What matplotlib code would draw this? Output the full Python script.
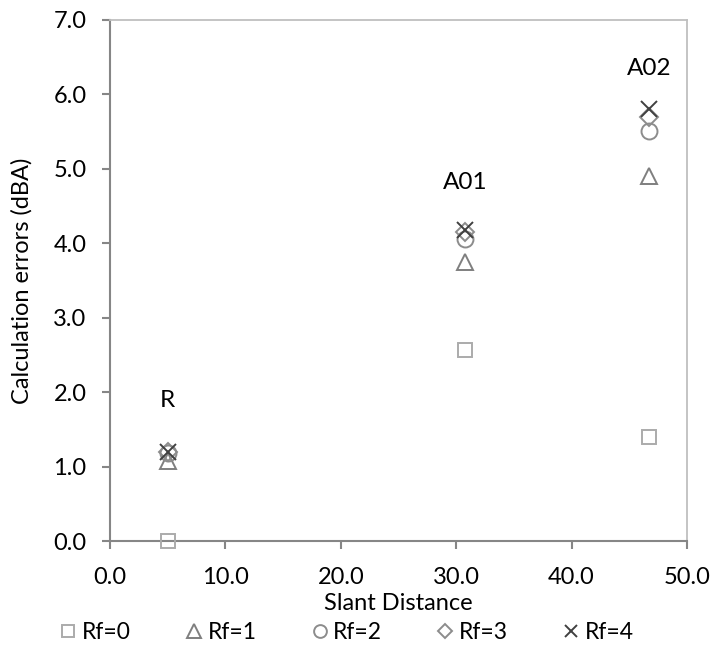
import matplotlib
matplotlib.use("Agg")
import matplotlib.pyplot as plt

plt.rcParams['font.family'] = ['Lato', 'DejaVu Sans']

slant_distance = [5.0, 30.8, 46.7]
site_labels = ["R", "A01", "A02"]
label_y = [1.89, 4.82, 6.35]

series_names = ["Rf=0", "Rf=1", "Rf=2", "Rf=3", "Rf=4"]
errors_rf0 = [0.0, 2.57, 1.40]
errors_rf1 = [1.08, 3.75, 4.90]
errors_rf2 = [1.18, 4.06, 5.51]
errors_rf3 = [1.20, 4.15, 5.70]
errors_rf4 = [1.20, 4.18, 5.80]

x_ticks = [0, 10, 20, 30, 40, 50]
y_ticks = [0, 1, 2, 3, 4, 5, 6, 7]

series = [errors_rf0, errors_rf1, errors_rf2, errors_rf3, errors_rf4]
markers = ["s", "^", "o", "D", "x"]
colors = ["#ABABAB", "#7F7F7F", "#8C8C8C", "#8C8C8C", "#404040"]
sizes = [10.5, 12, 11.5, 9, 11]

FS = 17

fig = plt.figure(figsize=(7.13, 6.55), dpi=100)
ax = fig.add_axes([0.1543, 0.174, 0.8092, 0.7955])

for name, vals, m, c, s in zip(series_names, series, markers, colors, sizes):
    ax.plot(slant_distance, vals, linestyle="none", marker=m, markersize=s,
            markerfacecolor="none", markeredgecolor=c, markeredgewidth=1.4,
            label=name, clip_on=False, zorder=3)

for x, y, t in zip(slant_distance, label_y, site_labels):
    ax.text(x, y, t, ha="center", va="center", fontsize=FS + 0.5, color="black")

ax.set_xlim(0, 50)
ax.set_ylim(0, 7)
ax.set_xticks(x_ticks)
ax.set_yticks(y_ticks)
ax.set_xticklabels([f"{v:.1f}" for v in x_ticks])
ax.set_yticklabels([f"{v:.1f}" for v in y_ticks])
ax.tick_params(axis="both", labelsize=FS, color="#868686", width=1.5,
               length=6, direction="out")
ax.tick_params(axis="y", pad=11)
ax.tick_params(axis="x", pad=13)

ax.spines["left"].set_color("#868686")
ax.spines["bottom"].set_color("#868686")
ax.spines["left"].set_linewidth(1.5)
ax.spines["bottom"].set_linewidth(1.5)
ax.spines["top"].set_color("#BFBFBF")
ax.spines["right"].set_color("#BFBFBF")
ax.spines["top"].set_linewidth(1.3)
ax.spines["right"].set_linewidth(1.3)

ax.set_xlabel("Slant Distance", fontsize=FS, labelpad=3)
ax.set_ylabel("Calculation errors (dBA)", fontsize=FS, labelpad=15)

leg = fig.legend(loc="center", bbox_to_anchor=(0.485, 0.034), ncol=5,
                 frameon=False, fontsize=FS - 0.5, handletextpad=0.15,
                 columnspacing=2.3, handlelength=0.9, markerscale=0.8)

fig.savefig("out.png", dpi=100)
